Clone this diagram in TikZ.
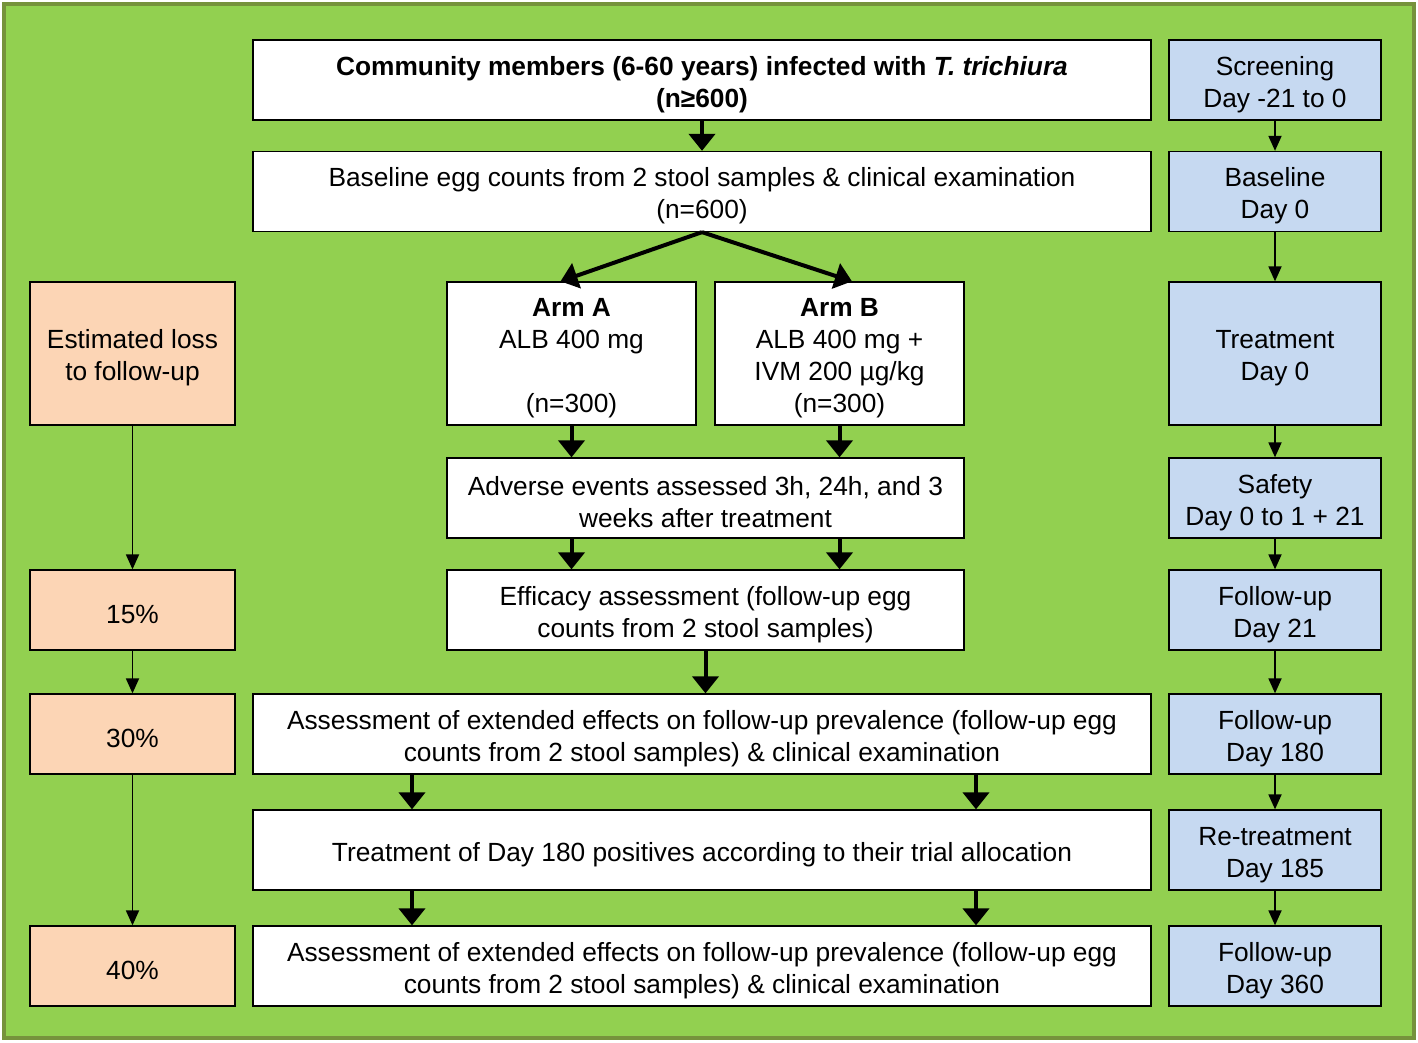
\documentclass[tikz,border=0pt]{standalone}
\usepackage{fontspec}
\setmainfont{Liberation Sans}
\usetikzlibrary{arrows.meta,calc}
\definecolor{bggreen}{HTML}{92D050}
\definecolor{frameolive}{HTML}{76923C}
\definecolor{dayblue}{HTML}{C6D9F1}
\definecolor{losspeach}{HTML}{FCD5B5}
\newcommand\fstrut{\rule{0pt}{27.5pt}}
\begin{document}
\begin{tikzpicture}[x=1pt,y=-1pt,
  box/.style={draw=black,line width=1.3pt,inner sep=0pt,align=center,font=\fontsize{26.3}{32}\selectfont},
  wbox/.style={box,fill=white},
  bbox/.style={box,fill=dayblue,minimum width=212pt},
  pbox/.style={box,fill=losspeach,minimum width=205pt},
  bigarrow/.style={line width=4pt,-{Triangle[width=26pt,length=17pt]}},
  smallarrow/.style={line width=1.8pt,-{Triangle[width=13pt,length=15pt]}}]
\useasboundingbox (0,0) rectangle (1418,1043);
\fill[white] (0,0) rectangle (1418,1043);
\draw[fill=bggreen,draw=frameolive,line width=4pt] (4,4) rectangle (1414,1038);

% central column
\node[wbox,minimum width=898pt,minimum height=80pt] (top) at (702,80)
  {\fstrut\textbf{Community members (6-60 years) infected with \textit{T. trichiura}}\\\textbf{(n≥600)}};
\node[wbox,minimum width=898pt,minimum height=80pt] (base) at (702,191.5)
  {\fstrut Baseline egg counts from 2 stool samples \& clinical examination\\(n=600)};
\node[wbox,minimum width=249pt,minimum height=143pt] (armA) at (571.5,353.5)
  {\fstrut\textbf{Arm A}\\ALB 400 mg\\ \\(n=300)};
\node[wbox,minimum width=249pt,minimum height=143pt] (armB) at (839.5,353.5)
  {\fstrut\textbf{Arm B}\\ALB 400 mg +\\IVM 200 µg/kg\\(n=300)};
\node[wbox,minimum width=517pt,minimum height=80pt] (adv) at (705.5,498)
  {\fstrut Adverse events assessed 3h, 24h, and 3\\weeks after treatment};
\node[wbox,minimum width=517pt,minimum height=80pt] (eff) at (705.5,610)
  {\fstrut Efficacy assessment (follow-up egg\\counts from 2 stool samples)};
\node[wbox,minimum width=898pt,minimum height=80pt] (ext1) at (702,734)
  {\fstrut Assessment of extended effects on follow-up prevalence (follow-up egg\\counts from 2 stool samples) \& clinical examination};
\node[wbox,minimum width=898pt,minimum height=80pt] (tr180) at (702,850)
  {\fstrut Treatment of Day 180 positives according to their trial allocation};
\node[wbox,minimum width=898pt,minimum height=80pt] (ext2) at (702,966)
  {\fstrut Assessment of extended effects on follow-up prevalence (follow-up egg\\counts from 2 stool samples) \& clinical examination};

% left column
\node[pbox,minimum height=143pt] (est) at (132.5,353.5) {\fstrut Estimated loss\\to follow-up};
\node[pbox,minimum height=80pt] (p15) at (132.5,610) {\fstrut 15\%};
\node[pbox,minimum height=80pt] (p30) at (132.5,734) {\fstrut 30\%};
\node[pbox,minimum height=80pt] (p40) at (132.5,966) {\fstrut 40\%};

% right column
\node[bbox,minimum height=80pt] (scr) at (1275,80) {\fstrut Screening\\Day -21 to 0};
\node[bbox,minimum height=80pt] (bl) at (1275,191.5) {\fstrut Baseline\\Day 0};
\node[bbox,minimum height=143pt] (trt) at (1275,353.5) {\fstrut Treatment\\Day 0};
\node[bbox,minimum height=80pt] (saf) at (1275,498) {\fstrut Safety\\Day 0 to 1 + 21};
\node[bbox,minimum height=80pt] (fu21) at (1275,610) {\fstrut Follow-up\\Day 21};
\node[bbox,minimum height=80pt] (fu180) at (1275,734) {\fstrut Follow-up\\Day 180};
\node[bbox,minimum height=80pt] (rt) at (1275,850) {\fstrut Re-treatment\\Day 185};
\node[bbox,minimum height=80pt] (fu360) at (1275,966) {\fstrut Follow-up\\Day 360};

\coordinate (xl) at (412,0);
\coordinate (xr) at (976,0);
\coordinate (tA) at ($(armA.north)+(-11,0)$);
\coordinate (tB) at ($(armB.north)+(12.5,0)$);

% central arrows
\draw[bigarrow] (top.south) -- (base.north);
\draw[bigarrow] (base.south) -- (tA);
\draw[bigarrow] (base.south) -- (tB);
\draw[bigarrow] (armA.south) -- (armA.south |- adv.north);
\draw[bigarrow] (armB.south) -- (armB.south |- adv.north);
\draw[bigarrow] (armA.south |- adv.south) -- (armA.south |- eff.north);
\draw[bigarrow] (armB.south |- adv.south) -- (armB.south |- eff.north);
\draw[bigarrow] (eff.south) -- (eff.south |- ext1.north);
\draw[bigarrow] (xl |- ext1.south) -- (xl |- tr180.north);
\draw[bigarrow] (xr |- ext1.south) -- (xr |- tr180.north);
\draw[bigarrow] (xl |- tr180.south) -- (xl |- ext2.north);
\draw[bigarrow] (xr |- tr180.south) -- (xr |- ext2.north);

% left arrows
\draw[smallarrow] (est.south) -- (p15.north);
\draw[smallarrow] (p15.south) -- (p30.north);
\draw[smallarrow] (p30.south) -- (p40.north);

% right arrows
\draw[smallarrow] (scr.south) -- (bl.north);
\draw[smallarrow] (bl.south) -- (trt.north);
\draw[smallarrow] (trt.south) -- (saf.north);
\draw[smallarrow] (saf.south) -- (fu21.north);
\draw[smallarrow] (fu21.south) -- (fu180.north);
\draw[smallarrow] (fu180.south) -- (rt.north);
\draw[smallarrow] (rt.south) -- (fu360.north);
\end{tikzpicture}
\end{document}
